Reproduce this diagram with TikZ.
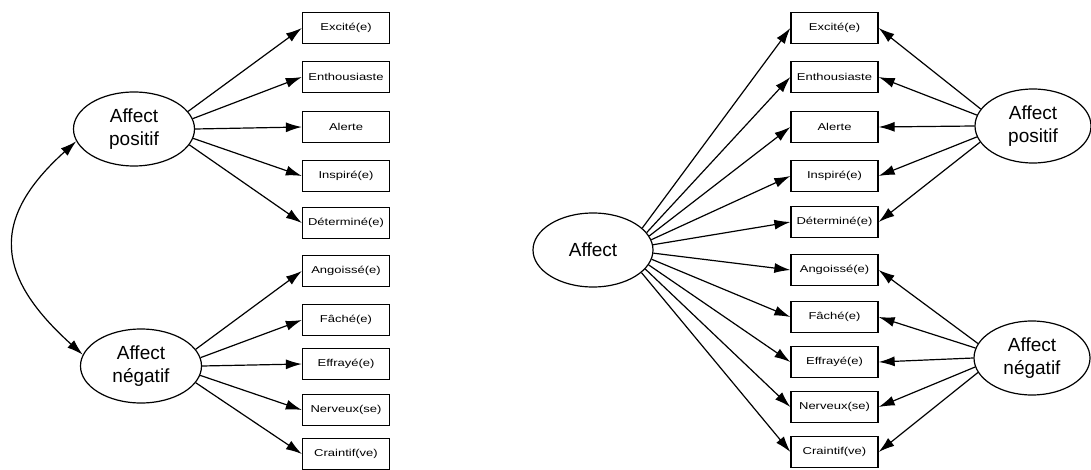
\documentclass[tikz,border=0pt]{standalone}
\usepackage{fontspec}
\setmainfont{Liberation Sans}
\newfontfamily\boxfont[FakeStretch=1.3]{Liberation Sans}
\usetikzlibrary{arrows.meta,shapes.geometric}
\tikzset{
  item/.style={draw,line width=1.3pt,minimum width=87pt,minimum height=31pt,inner sep=0pt,font=\boxfont\fontsize{10}{12}\selectfont},
  factor/.style={draw,ellipse,line width=1.2pt,minimum width=121pt,minimum height=74pt,inner sep=0pt,align=center,font=\fontsize{19}{23}\selectfont},
  link/.style={line width=1.2pt,-{Latex[length=16pt,width=10pt]}},
  dlink/.style={line width=1.2pt,{Latex[length=16pt,width=10pt]}-{Latex[length=16pt,width=10pt]}}
}
\begin{document}
\begin{tikzpicture}[x=1pt,y=-1pt]
\useasboundingbox (0,0) rectangle (1091,470);
% ---- left model ----
\node[factor] (lp) at (134,129) {Affect\\positif};
\node[factor] (ln) at (141,366) {Affect\\négatif};
\node[item] (l1) at (346,28) {Excité(e)};
\node[item] (l2) at (346,77) {Enthousiaste};
\node[item] (l3) at (346,127) {Alerte};
\node[item] (l4) at (346,176) {Inspiré(e)};
\node[item] (l5) at (346,223) {Déterminé(e)};
\node[item] (l6) at (346,271) {Angoissé(e)};
\node[item] (l7) at (346,320) {Fâché(e)};
\node[item] (l8) at (346,364) {Effrayé(e)};
\node[item] (l9) at (346,410) {Nerveux(se)};
\node[item] (l10) at (346,454) {Craintif(ve)};
\foreach \i/\a in {1/18,2/10,3/0,4/-9,5/-16} \draw[link] (lp.\a) -- (l\i.west);
\foreach \i/\a in {6/17,7/8,8/0,9/-9,10/-17} \draw[link] (ln.\a) -- (l\i.west);
\draw[dlink] (lp.192) to[out=222,in=138,looseness=1.4] (ln.169);
% ---- right model ----
\node[factor,minimum width=120pt] (ra) at (593,250) {Affect};
\node[factor,minimum width=116pt] (rp) at (1033,126) {Affect\\positif};
\node[factor,minimum width=116pt] (rn) at (1032,358) {Affect\\négatif};
\node[item] (r1) at (834.5,28) {Excité(e)};
\node[item] (r2) at (834.5,77) {Enthousiaste};
\node[item] (r3) at (834.5,127) {Alerte};
\node[item] (r4) at (834.5,176) {Inspiré(e)};
\node[item] (r5) at (834.5,222) {Déterminé(e)};
\node[item] (r6) at (834.5,270) {Angoissé(e)};
\node[item] (r7) at (834.5,317) {Fâché(e)};
\node[item] (r8) at (834.5,362) {Effrayé(e)};
\node[item] (r9) at (834.5,407) {Nerveux(se)};
\node[item] (r10) at (834.5,452) {Craintif(ve)};
\foreach \i/\a in {1/24,2/18,3/14,4/10,5/5,6/-3,7/-9,8/-15,9/-20,10/-25} \draw[link] (ra.\a) -- (r\i.west);
\foreach \i/\a in {1/162,2/169,3/180,4/191,5/197} \draw[link] (rp.\a) -- (r\i.east);
\foreach \i/\a in {6/165,7/170,8/180,9/189,10/195} \draw[link] (rn.\a) -- (r\i.east);
\end{tikzpicture}
\end{document}
